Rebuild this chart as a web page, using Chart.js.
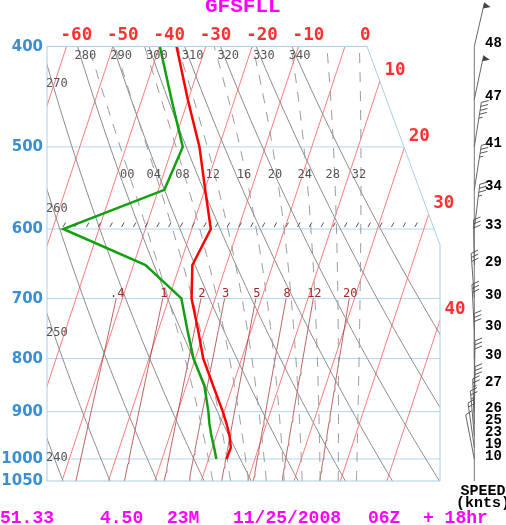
<!DOCTYPE html>
<html><head><meta charset="utf-8">
<script src="https://cdn.jsdelivr.net/npm/chart.js@4.4.1/dist/chart.umd.min.js"></script>
<style>html,body{margin:0;padding:0;background:#fff;}canvas{display:block;}</style>
</head><body>
<canvas id="c" width="506" height="525"></canvas>
<script>
// ---------------- data ----------------
const levels      = [1000, 975, 950, 925, 900, 850, 800, 750, 700, 650, 600, 550, 500, 450, 400];
const temperature = [3.9, 4.0, 2.9, 1.4, -0.3, -4.2, -8.3, -11.5, -15.1, -17.3, -15.9, -19.9, -24.2, -30.1, -36.3];
const dewpoint    = [1.7, 0.4, -1.0, -2.3, -3.4, -6.1, -10.4, -13.8, -17.3, -27.4, -47.7, -28.7, -27.8, -33.6, -39.9];

const windLevels = [400, 450, 500, 550, 600, 650, 700, 750, 800, 850, 900, 925, 950, 975, 1000];
const windSpeed  = [48, 47, 41, 34, 33, 29, 30, 30, 30, 27, 26, 25, 23, 19, 10];
const windDir    = [13, 12, 9, 9, 7, 359, 356, 357, 0, 1, 1, 358, 355, 352, 349];

const pressureTicks = [400, 500, 600, 700, 800, 900, 1000, 1050];
const isotherms     = [-60, -50, -40, -30, -20, -10, 0, 10, 20, 30, 40];
const dryAdiabats   = [240, 250, 260, 270, 280, 290, 300, 310, 320, 330, 340];
const moistAdiabats = [0, 4, 8, 12, 16, 20, 24, 28, 32];
const mixingRatios  = [0.4, 1, 2, 3, 5, 8, 12, 20];
const mixingLabels  = ['.4', '1', '2', '3', '5', '8', '12', '20'];
const markedLevel   = 600;

const titleText = 'GFSFLL';
const footer = [['51.33', 0], ['4.50', 100], ['23M', 167], ['11/25/2008', 233], ['06Z', 368], ['+ 18hr', 423]];

// ---------------- geometry of the skew-T ----------------
const P_TOP = 400, P_BOT = 1050;
const SKEW = 32.11;               // degC per ln(p) unit
const X_MIN = -64.22, X_MAX = 20.47;
const FRAME_TR_X = 4.74, FRAME_SLANT_P = 621.6;
function skewX(T, p) { return T - SKEW * Math.log(p / P_TOP); }

function satMix(Tk, p) { const es = 6.112 * Math.exp(17.67 * (Tk - 273.15) / (Tk - 29.65)); return 0.622 * es / (p - es); }
function moistLapse(Tk, p) {
  const Rd = 287.04, Cp = 1005.7, Lv = 2.501e6, eps = 0.622;
  const r = satMix(Tk, p);
  return ((Rd * Tk + Lv * r) / p) / (Cp + Lv * Lv * r * eps / (Rd * Tk * Tk));
}
function rk4(T, p, h) {
  const k1 = moistLapse(T, p), k2 = moistLapse(T + h * k1 / 2, p + h / 2),
        k3 = moistLapse(T + h * k2 / 2, p + h / 2), k4 = moistLapse(T + h * k3, p + h);
  return T + h * (k1 + 2 * k2 + 2 * k3 + k4) / 6;
}
function moistCurve(thw) {
  const down = []; let T = thw + 273.15, p = 1000;
  while (p < P_BOT) { const h = Math.min(5, P_BOT - p); T = rk4(T, p, h); p += h; down.push({ p, T }); }
  const up = [{ p: 1000, T: thw + 273.15 }]; T = thw + 273.15; p = 1000;
  while (p > P_TOP) { const h = -Math.min(5, p - P_TOP); T = rk4(T, p, h); p += h; up.push({ p, T }); }
  return down.reverse().concat(up).map(o => ({ x: skewX(o.T - 273.15, o.p), y: o.p }));
}
function dryCurve(theta) {
  const pts = [];
  for (let p = P_BOT; p >= P_TOP; p -= 10) pts.push({ x: skewX(theta * Math.pow(p / 1000, 0.2857) - 273.15, p), y: p });
  return pts;
}
function mixTd(w, p) { const e = p * w / (622 + w); const l = Math.log(e / 6.112); return 243.5 * l / (17.67 - l); }
function mixCurve(w) {
  const pts = [];
  for (let p = P_BOT; p >= 700; p -= 10) pts.push({ x: skewX(mixTd(w, p), p), y: p });
  return pts;
}

function ds(pts, color, width, order, dash) {
  return { type: 'scatter', data: pts, showLine: true, borderColor: color, borderWidth: width,
    pointRadius: 0, pointHoverRadius: 0, borderDash: dash || [], order, fill: false, tension: 0 };
}
const datasets = [];
pressureTicks.filter(p => p < P_BOT).forEach(p => datasets.push(ds([{ x: X_MIN, y: p }, { x: X_MAX, y: p }], '#b4d6ec', 1, 6)));
isotherms.forEach(T => datasets.push(ds([{ x: skewX(T, P_BOT), y: P_BOT }, { x: skewX(T, P_TOP), y: P_TOP }], 'rgba(255,90,90,0.8)', 1, 5)));
mixingRatios.forEach(w => datasets.push(ds(mixCurve(w), 'rgba(165,45,45,0.75)', 1, 4)));
dryAdiabats.forEach(th => datasets.push(ds(dryCurve(th), '#8c8c8c', 1, 3)));
const moistData = moistAdiabats.map(moistCurve);
moistData.forEach(c => datasets.push(ds(c, '#9a9a9a', 1, 2, [10, 9])));
datasets.push(ds(levels.map((p, i) => ({ x: skewX(dewpoint[i], p), y: p })), '#10a010', 2.5, 1));
datasets.push(ds(levels.map((p, i) => ({ x: skewX(temperature[i], p), y: p })), '#ff0000', 2.5, 0));

// ---------------- plugins ----------------
function corners(chart) {
  const xs = chart.scales.x, ys = chart.scales.y;
  return [[X_MIN, P_TOP], [FRAME_TR_X, P_TOP], [X_MAX, FRAME_SLANT_P], [X_MAX, P_BOT], [X_MIN, P_BOT]]
    .map(c => [xs.getPixelForValue(c[0]), ys.getPixelForValue(c[1])]);
}
function framePath(ctx, chart) {
  const c = corners(chart); ctx.beginPath(); ctx.moveTo(c[0][0], c[0][1]);
  for (let i = 1; i < c.length; i++) ctx.lineTo(c[i][0], c[i][1]); ctx.closePath();
}
const frameClip = {
  id: 'frameClip',
  beforeDatasetsDraw(chart) { const ctx = chart.ctx; ctx.save(); framePath(ctx, chart); ctx.clip(); },
  afterDatasetsDraw(chart) { chart.ctx.restore(); }
};

function txt(ctx, s, x, y, font, color, align, base) {
  ctx.font = font; ctx.fillStyle = color; ctx.textAlign = align || 'left'; ctx.textBaseline = base || 'middle';
  ctx.fillText(s, x, y);
}

const decor = {
  id: 'decor',
  afterDraw(chart) {
    const ctx = chart.ctx, xs = chart.scales.x, ys = chart.scales.y;
    const top = ys.getPixelForValue(P_TOP), bot = ys.getPixelForValue(P_BOT);
    const left = xs.getPixelForValue(X_MIN), right = xs.getPixelForValue(X_MAX);
    const trx = xs.getPixelForValue(FRAME_TR_X), sy = ys.getPixelForValue(FRAME_SLANT_P);
    ctx.save();
    // frame
    ctx.strokeStyle = '#a8cfe8'; ctx.lineWidth = 1; framePath(ctx, chart); ctx.stroke();

    // marked level hatch
    const ym = ys.getPixelForValue(markedLevel);
    ctx.strokeStyle = '#555'; ctx.lineWidth = 1;
    for (let i = 0; i <= 30; i++) {
      const x = left + 16 + i * 11.73;
      ctx.beginPath(); ctx.moveTo(x, ym - 2); ctx.lineTo(x + 2.5, ym - 6.5); ctx.stroke();
    }

    // pressure labels
    pressureTicks.forEach(p => txt(ctx, String(p), left - 4, ys.getPixelForValue(p) + 0.5, 'bold 15px "DejaVu Sans"', '#3a8fd4', 'right'));

    // isotherm labels
    const k = (right - trx) / (sy - top);
    isotherms.forEach(T => {
      const xt = xs.getPixelForValue(skewX(T, P_TOP)), xb = xs.getPixelForValue(skewX(T, P_BOT));
      const slope = (xb - xt) / (bot - top);
      let xi, yi;
      if (xt >= left && xt <= trx) { xi = xt; yi = top; }
      else if (xt > trx) {
        let d = (xt - trx) / (k - slope);
        if (top + d <= sy) { yi = top + d; xi = xt + slope * d; }
        else { d = (right - xt) / slope; yi = top + d; xi = right; }
      } else return;
      txt(ctx, String(T).padStart(3, ' '), xi - 6, yi - 11, 'bold 17.5px "DejaVu Sans Mono"', '#ff3030');
    });

    // dry adiabat labels
    dryAdiabats.forEach(th => {
      const px = p => xs.getPixelForValue(skewX(th * Math.pow(p / 1000, 0.2857) - 273.15, p));
      const x4 = px(P_TOP);
      if (x4 >= left) { txt(ctx, String(th), x4 - 3, top + 9, '12px "DejaVu Sans Mono"', '#555'); return; }
      if (px(P_BOT) < left) return;
      let a = P_TOP, b = P_BOT;
      for (let i = 0; i < 40; i++) { const m = (a + b) / 2; if (px(m) < left) a = m; else b = m; }
      txt(ctx, String(th), left - 1, ys.getPixelForValue(a) + 19, '12px "DejaVu Sans Mono"', '#555');
    });

    // moist adiabat labels
    const pl = 532;
    moistData.forEach((c, i) => {
      let x = null;
      for (let j = 1; j < c.length; j++) {
        if ((c[j - 1].y - pl) * (c[j].y - pl) <= 0) { const f = (pl - c[j - 1].y) / (c[j].y - c[j - 1].y); x = c[j - 1].x + f * (c[j].x - c[j - 1].x); break; }
      }
      if (x === null) return;
      txt(ctx, String(moistAdiabats[i]).padStart(2, '0'), xs.getPixelForValue(x) - 2, ys.getPixelForValue(pl), '12px "DejaVu Sans Mono"', '#555', 'center');
    });

    // mixing ratio labels
    mixingRatios.forEach((w, i) => {
      const x = xs.getPixelForValue(skewX(mixTd(w, 700), 700));
      txt(ctx, mixingLabels[i], x + 1, ys.getPixelForValue(700) - 5, '12px "DejaVu Sans Mono"', '#a52828', 'center');
    });

    // wind column
    const wx = 474.3;
    ctx.strokeStyle = '#777'; ctx.lineWidth = 1;
    ctx.beginPath(); ctx.moveTo(wx, ys.getPixelForValue(windLevels[0])); ctx.lineTo(wx, bot); ctx.stroke();
    windLevels.forEach((p, i) => {
      const y0 = ys.getPixelForValue(p);
      const rad = windDir[i] * Math.PI / 180, ux = Math.sin(rad), uy = -Math.cos(rad);
      const rx = -uy, ry = ux, L = 45;
      const tx = wx + ux * L, ty = y0 + uy * L;
      ctx.strokeStyle = '#666'; ctx.fillStyle = '#444'; ctx.lineWidth = 1;
      ctx.beginPath(); ctx.moveTo(wx, y0); ctx.lineTo(tx, ty); ctx.stroke();
      let s = Math.ceil(windSpeed[i] / 5) * 5;
      const pen = Math.floor(s / 50); s -= pen * 50;
      const full = Math.floor(s / 10); const half = (s % 10) >= 5;
      let pos = 0;
      const at = d => [tx - ux * d, ty - uy * d];
      for (let n = 0; n < pen; n++) {
        const a = at(pos), b = at(pos + 6), m = at(pos + 3);
        ctx.beginPath(); ctx.moveTo(a[0], a[1]); ctx.lineTo(m[0] + rx * 7, m[1] + ry * 7); ctx.lineTo(b[0], b[1]); ctx.closePath(); ctx.fill();
        pos += 7;
      }
      ctx.strokeStyle = '#555';
      for (let n = 0; n < full; n++) {
        const a = at(pos);
        ctx.beginPath(); ctx.moveTo(a[0], a[1]); ctx.lineTo(a[0] + rx * 7 + ux * 3, a[1] + ry * 7 + uy * 3); ctx.stroke();
        pos += 4;
      }
      if (half) {
        const a = at(pos);
        ctx.beginPath(); ctx.moveTo(a[0], a[1]); ctx.lineTo(a[0] + rx * 3.5 + ux * 1.5, a[1] + ry * 3.5 + uy * 1.5); ctx.stroke();
      }
      txt(ctx, String(windSpeed[i]), 485, y0 + 0.5, 'bold 14px "Liberation Mono"', '#000', 'left', 'alphabetic');
    });
    txt(ctx, 'SPEED', 483, 495, 'bold 15px "Liberation Mono"', '#000', 'center', 'alphabetic');
    txt(ctx, '(knts)', 483, 507, 'bold 15px "Liberation Mono"', '#000', 'center', 'alphabetic');

    // title and footer
    txt(ctx, titleText, 205, 12, 'bold 21px "Liberation Mono"', '#ff00ff', 'left', 'alphabetic');
    footer.forEach(f => txt(ctx, f[0], f[1], 523, 'bold 18px "Liberation Mono"', '#ff00ff', 'left', 'alphabetic'));
    ctx.restore();
  }
};

new Chart(document.getElementById('c'), {
  type: 'scatter',
  data: { datasets },
  options: {
    responsive: false, animation: false, events: [],
    layout: { padding: { left: 47, right: 66, top: 46.4, bottom: 44 } },
    plugins: { legend: { display: false }, tooltip: { enabled: false } },
    scales: {
      x: { type: 'linear', min: X_MIN, max: X_MAX, bounds: 'data', display: false },
      y: { type: 'logarithmic', min: P_TOP, max: P_BOT, reverse: true, bounds: 'data', display: false }
    }
  },
  plugins: [frameClip, decor]
});
</script>
</body></html>
